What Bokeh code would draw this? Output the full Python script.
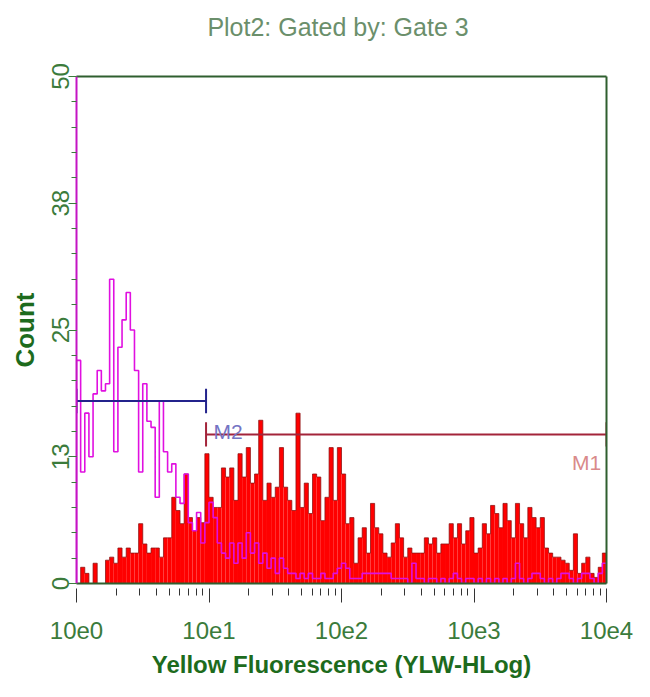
import numpy as np
from bokeh.plotting import figure
from bokeh.models import FixedTicker, LinearAxis, Range1d
from bokeh.embed import file_html
from bokeh.resources import INLINE
from bokeh.core.properties import value

FONT = "'Liberation Sans Narrow', 'Arial Narrow', 'Liberation Sans', sans-serif"

# ---- data: 32 channels per decade over 4 decades (10e0 .. 10e4) ----
channels_per_decade = 32
n_decades = 4

red_counts = [
    # decade 10e0-10e1
    0, 1.6, 1.0, 0, 2, 0, 0, 2.3, 2.6, 2, 3.5, 2.6, 3.5, 3, 3, 5.9,
    3.9, 3, 3.5, 3.5, 2.6, 4.5, 4.5, 8.5, 7.2, 5.9, 10.8, 6.5, 5.2, 6.5, 6, 12.8,
    # decade 10e1-10e2
    8.5, 7.5, 7.5, 11.4, 10.5, 11.4, 8.2, 12.8, 10.5, 13.4, 9.9, 10.8, 16.1, 8.2, 9.9, 8.5,
    9.5, 13.4, 9.5, 8.2, 7.2, 16.8, 7.5, 9.9, 6.9, 10.8, 10.5, 6.2, 8.5, 13.4, 8.2, 13.4,
    # decade 10e2-10e3
    10.8, 5.9, 6.5, 2, 4.5, 5.5, 3, 7.9, 5.5, 4.9, 3, 2.6, 4, 5.9, 4.5, 2.6,
    3.5, 3, 3, 3, 4.5, 3.9, 4.5, 3, 3.9, 3.9, 5.9, 4.5, 5.9, 3.9, 5.2, 6.5,
    # decade 10e3-10e4
    3, 3.5, 5.9, 4.9, 7.7, 6.9, 5.5, 7.9, 6.2, 4.5, 7.9, 5.9, 4.5, 7.5, 6.5, 5.5,
    6.5, 3.5, 3, 2.6, 2.6, 2.3, 2, 1.3, 4.9, 1, 2, 2.6, 1, 0.6, 1.6, 3,
]

magenta_counts = [
    # decade 10e0-10e1
    22, 11, 16.8, 12.5, 18.7, 21, 19, 19.7, 30, 13, 23.3, 26, 28.7, 25, 21, 11,
    19.7, 16, 15.4, 8.5, 18, 13, 11, 11.8, 8.5, 7.9, 10.8, 6, 5.2, 7, 4, 6,
    # decade 10e1-10e2
    8, 6.5, 4, 3, 2.5, 4, 2, 4, 2.5, 5, 3, 4, 2, 3, 1.5, 2.5,
    1, 2.5, 1.5, 1, 1, 0.5, 1, 0.5, 1, 0.5, 0.5, 1, 0.5, 0.5, 1, 1.5,
    # decade 10e2-10e3
    2, 1.5, 0.5, 0.5, 0.5, 1, 1, 1, 1, 1, 1, 1, 0.5, 0.5, 0.5, 0.5,
    0, 2, 0.5, 0.5, 0, 0.5, 0.5, 0, 0.5, 0, 0.5, 1, 0.5, 0, 0.5, 0.5,
    # decade 10e3-10e4
    0, 0.5, 0, 0.5, 0, 0.5, 0, 0.5, 0, 0.5, 2, 0.5, 0, 0.5, 1, 1,
    0.5, 0, 0.5, 0, 0.5, 1, 1, 0.5, 0, 0.5, 1, 1, 0.5, 0, 1, 2,
]

x_ticks = [1, 10, 100, 1000, 10000]
x_tick_labels = ["10e0", "10e1", "10e2", "10e3", "10e4"]
y_ticks = [0, 12.5, 25, 37.5, 50]
y_tick_labels = ["0", "13", "25", "38", "50"]

marker_names = ["M1", "M2"]
marker_lo = [9.5, 1.0]
marker_hi = [10000, 9.5]
marker_level = [14.7, 18.0]
marker_label_x = [5500, 10.8]
marker_label_y = [11.9, 15.0]
marker_line_colors = ["#a3243a", "#23238c"]
marker_text_colors = ["#d98a8a", "#7474c4"]

title_text = "Plot2:  Gated by: Gate 3"

assert len(red_counts) == channels_per_decade * n_decades
assert len(magenta_counts) == channels_per_decade * n_decades

edges = 10 ** (np.arange(channels_per_decade * n_decades + 1) / channels_per_decade)


def step_path(counts):
    xs, ys = [edges[0]], [0.0]
    for i, c in enumerate(counts):
        xs += [edges[i], edges[i + 1]]
        ys += [c, c]
    xs.append(edges[-1])
    ys.append(0.0)
    return xs, ys


GREEN_FRAME = "#2f5f2f"
GREEN_TEXT = "#3b7b3b"

p = figure(width=650, height=697, x_axis_type="log",
           x_range=Range1d(1, 10000), y_range=Range1d(0, 50),
           output_backend="svg", toolbar_location=None,
           min_border_left=76, min_border_right=44,
           min_border_top=76, min_border_bottom=114)
p.grid.visible = False
p.outline_line_color = None
p.background_fill_color = "white"
p.border_fill_color = "white"

# red filled histogram
p.quad(left=edges[:-1], right=edges[1:], bottom=0, top=red_counts,
       fill_color="#ff0000", line_color=None)
rx, ry = step_path(red_counts)
p.line(rx, ry, line_color="#8a1010", line_width=1, line_alpha=0.75)

# magenta outline histogram
mx, my = step_path(magenta_counts)
p.line(mx, my, line_color="#e010e0", line_width=1.6)

# markers
for i in range(len(marker_names)):
    lo, hi, lv = marker_lo[i], marker_hi[i], marker_level[i]
    col = marker_line_colors[i]
    p.segment(x0=[lo], y0=[lv], x1=[hi], y1=[lv], line_color=col, line_width=2)
    p.segment(x0=[lo, hi], y0=[lv - 1.2, lv - 1.2], x1=[lo, hi], y1=[lv + 1.2, lv + 1.2],
              line_color=col, line_width=2)
p.text(x=marker_label_x, y=marker_label_y, text=marker_names,
       text_color=marker_text_colors, text_font=value(FONT),
       text_font_size="21px", text_baseline="middle", text_align="left")

# x axis
xa = p.xaxis[0]
xa.ticker = FixedTicker(ticks=x_ticks,
                        minor_ticks=[m * 10 ** k for k in range(n_decades) for m in range(2, 10)])
xa.major_label_overrides = dict(zip(x_ticks, x_tick_labels))
xa.major_label_text_font = FONT
xa.major_label_text_font_size = "24px"
xa.major_label_text_color = GREEN_TEXT
xa.major_label_standoff = 19
xa.axis_line_color = GREEN_FRAME
xa.axis_line_width = 2
xa.major_tick_line_color = "#333333"
xa.minor_tick_line_color = "#333333"
xa.major_tick_in = -5
xa.major_tick_out = 19
xa.minor_tick_in = -5
xa.minor_tick_out = 12
xa.axis_label = "Yellow Fluorescence (YLW-HLog)"
xa.axis_label_text_font = FONT
xa.axis_label_text_font_size = "24px"
xa.axis_label_text_font_style = "bold"
xa.axis_label_text_color = "#1d6b1d"
xa.axis_label_standoff = 9

# y axis
ya = p.yaxis[0]
ya.ticker = FixedTicker(ticks=y_ticks,
                        minor_ticks=[v * 2.5 for v in range(21)])
ya.major_label_overrides = dict(zip(y_ticks, y_tick_labels))
ya.major_label_orientation = "vertical"
ya.major_label_text_font = FONT
ya.major_label_text_font_size = "24px"
ya.major_label_text_color = GREEN_TEXT
ya.major_label_standoff = 0
ya.axis_line_color = "#c414c4"
ya.axis_line_width = 2
ya.major_tick_line_color = GREEN_TEXT
ya.minor_tick_line_color = GREEN_TEXT
ya.major_tick_in = 0
ya.major_tick_out = 8
ya.minor_tick_in = 0
ya.minor_tick_out = 5
ya.axis_label = "Count"
ya.axis_label_text_font = FONT
ya.axis_label_text_font_size = "26px"
ya.axis_label_text_font_style = "bold"
ya.axis_label_text_color = "#1d6b1d"
ya.axis_label_standoff = 9

# top frame line carrying the plot title, and right frame line
top_axis = LinearAxis(ticker=FixedTicker(ticks=[]), axis_line_color=GREEN_FRAME,
                      axis_line_width=2, major_tick_line_color=None,
                      minor_tick_line_color=None,
                      axis_label=title_text, axis_label_standoff=36,
                      axis_label_text_font=FONT, axis_label_text_font_size="25px",
                      axis_label_text_font_style="normal",
                      axis_label_text_color="#6b8f6b")
p.add_layout(top_axis, "above")
right_axis = LinearAxis(ticker=FixedTicker(ticks=[]), axis_line_color=GREEN_FRAME,
                        axis_line_width=2, major_tick_line_color=None,
                        minor_tick_line_color=None)
p.add_layout(right_axis, "right")

open("out.html", "w").write(file_html(p, INLINE))
